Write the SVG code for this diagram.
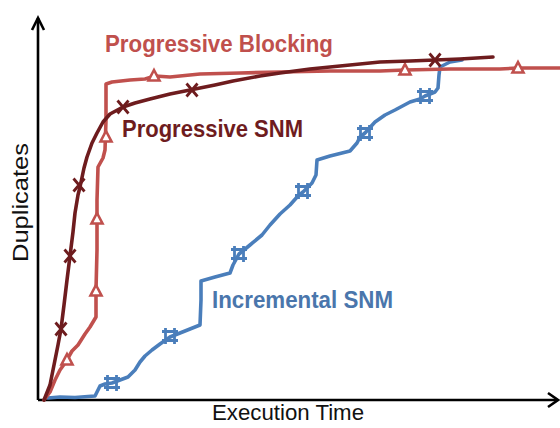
<svg xmlns="http://www.w3.org/2000/svg" width="560" height="428" viewBox="0 0 560 428">
<defs>
<style>
.axis{stroke:#000;stroke-width:2.6;fill:none}
.ax-label{font-family:"Liberation Sans",Arial,sans-serif;font-size:22px;fill:#111}
.lbl{font-family:"Liberation Sans",Arial,sans-serif;font-size:24px;font-weight:bold}
.pb{stroke:#c0504d;stroke-width:3.6;fill:none;stroke-linejoin:round;stroke-linecap:round}
.ps{stroke:#6e1c1e;stroke-width:3.6;fill:none;stroke-linejoin:round;stroke-linecap:round}
.is{stroke:#4a7ebb;stroke-width:3.6;fill:none;stroke-linejoin:round;stroke-linecap:round}
.tri{fill:#fff;stroke:#c0504d;stroke-width:2.6;stroke-linejoin:miter}
.xm{stroke:#6e1c1e;stroke-width:2.8;fill:none}
.sq{stroke:#4a7ebb;stroke-width:2.8;fill:none}
</style>
<path id="tri" d="M0,-6 L5.5,4.5 L-5.5,4.5 Z" class="tri"/>
<path id="xmk" d="M-5.5,-6.5 L5.5,6.5 M5.5,-6.5 L-5.5,6.5" class="xm"/>
<path id="hash" d="M-4.5,-8 V8 M4.5,-8 V8 M-8,-4.5 H8 M-8,4.5 H8" class="sq"/>
</defs>
<rect width="560" height="428" fill="#fff"/>

<g id="axes">
<path class="axis" d="M38,400 V18"/>
<path class="axis" d="M32,30 L38,18 L44,30"/>
<path class="axis" d="M38,400 H557"/>
<path class="axis" d="M548,393 L558,400 L548,407"/>
<text class="ax-label" x="288" y="420" text-anchor="middle" textLength="152" lengthAdjust="spacingAndGlyphs">Execution Time</text>
<text class="ax-label" transform="translate(28,202.5) rotate(-90)" text-anchor="middle" textLength="119" lengthAdjust="spacingAndGlyphs">Duplicates</text>
</g>

<g id="incremental-snm">
<polyline class="is" points="48,398 60,397 75,397.5 88,396.5 95,396 98,390 100,386 105,384 112,383 120,380 128,377 135,370 140,362 145,356 152,350 160,344 170,337 180,333 190,329 200,325 201,300 201,281 215,277 230,273 233,265 239,254 250,245 262,235 270,225 280,214 290,205 298,196 303,192 312,183 316,175 317,160 330,156 350,151 357,143 360,137 365,133 375,122 385,115 395,110 410,102 420,99 425,96 435,92 438,88 439,75 440,67 450,62 462,60"/>
<use href="#hash" x="112" y="383"/>
<use href="#hash" x="170" y="336"/>
<use href="#hash" x="239" y="254"/>
<use href="#hash" x="303" y="191"/>
<use href="#hash" x="365" y="133"/>
<use href="#hash" x="425" y="96"/>
</g>

<g id="progressive-blocking">
<polyline class="pb" points="44,400 50,392 55,380 60,370 65,363 68,358 72,351 78,345 85,334 90,327 96,317 96,290 97,250 97,219 97,200 98,167 103,158 105,150 106,120 106,84 112,82 130,80 145,79 155,76 170,77 200,74 240,73 280,72 330,71 380,71 405,70 450,69 500,69 518,68 560,68"/>
<use href="#tri" x="67" y="360"/>
<use href="#tri" x="96" y="291"/>
<use href="#tri" x="97" y="219"/>
<use href="#tri" x="106" y="137"/>
<use href="#tri" x="154" y="76"/>
<use href="#tri" x="405" y="70"/>
<use href="#tri" x="518" y="68"/>
</g>

<g id="progressive-snm">
<polyline class="ps" points="44,400 50,385 54,365 58,345 61,329 64,305 67,280 70,256 73,232 75,213 78,195 80,187 84,168 87,157 92,143 97,133 103,122 110,114 123,107 135,103 150,99 170,94 190,90 215,85 233,81 260,76 280,73 310,69 340,66 380,62 410,61 435,60 460,59 493,57"/>
<use href="#xmk" x="61" y="329"/>
<use href="#xmk" x="70" y="256"/>
<use href="#xmk" x="79" y="185"/>
<use href="#xmk" x="123" y="107"/>
<use href="#xmk" x="192" y="90"/>
<use href="#xmk" x="435" y="60"/>
</g>

<g id="labels">
<text class="lbl" x="105" y="52" fill="#c0504d" textLength="228" lengthAdjust="spacingAndGlyphs">Progressive Blocking</text>
<text class="lbl" x="122" y="137" fill="#6e1c1e" textLength="181" lengthAdjust="spacingAndGlyphs">Progressive SNM</text>
<text class="lbl" x="212" y="308" fill="#4a76ac" textLength="181" lengthAdjust="spacingAndGlyphs">Incremental SNM</text>
</g>
</svg>
